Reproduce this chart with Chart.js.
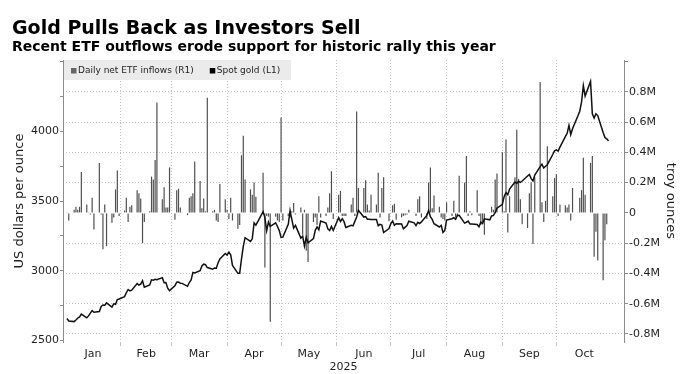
<!DOCTYPE html>
<html lang="en">
<head>
<meta charset="UTF-8">
<title>Gold Pulls Back as Investors Sell</title>
<script src="https://cdn.jsdelivr.net/npm/chart.js"></script>
<style>
  body { margin: 0; background: #fff; }
  .wrap { width: 695px; height: 374px; position: relative; }
</style>
</head>
<body>
<div class="wrap"><canvas id="goldChart"></canvas></div>
<script>
// trading days 2025 (M/D)
const dates = [
  '1/2','1/3','1/6','1/7','1/8','1/9','1/10','1/13','1/14','1/15','1/16','1/17','1/20','1/21','1/22','1/23','1/24','1/27','1/28','1/29','1/30','1/31',
  '2/3','2/4','2/5','2/6','2/7','2/10','2/11','2/12','2/13','2/14','2/17','2/18','2/19','2/20','2/21','2/24','2/25','2/26','2/27','2/28',
  '3/3','3/4','3/5','3/6','3/7','3/10','3/11','3/12','3/13','3/14','3/17','3/18','3/19','3/20','3/21','3/24','3/25','3/26','3/27','3/28','3/31',
  '4/1','4/2','4/3','4/4','4/7','4/8','4/9','4/10','4/11','4/14','4/15','4/16','4/17','4/21','4/22','4/23','4/24','4/25','4/28','4/29','4/30',
  '5/1','5/2','5/5','5/6','5/7','5/8','5/9','5/12','5/13','5/14','5/15','5/16','5/19','5/20','5/21','5/22','5/23','5/26','5/27','5/28','5/29','5/30',
  '6/2','6/3','6/4','6/5','6/6','6/9','6/10','6/11','6/12','6/13','6/16','6/17','6/18','6/19','6/20','6/23','6/24','6/25','6/26','6/27','6/30',
  '7/1','7/2','7/3','7/4','7/7','7/8','7/9','7/10','7/11','7/14','7/15','7/16','7/17','7/18','7/21','7/22','7/23','7/24','7/25','7/28','7/29','7/30','7/31',
  '8/1','8/4','8/5','8/6','8/7','8/8','8/11','8/12','8/13','8/14','8/15','8/18','8/19','8/20','8/21','8/22','8/25','8/26','8/27','8/28','8/29',
  '9/1','9/2','9/3','9/4','9/5','9/8','9/9','9/10','9/11','9/12','9/15','9/16','9/17','9/18','9/19','9/22','9/23','9/24','9/25','9/26','9/29','9/30',
  '10/1','10/2','10/3','10/6','10/7','10/8','10/9','10/10','10/13','10/14','10/15','10/16','10/17','10/20','10/21','10/22','10/23','10/24','10/27','10/28','10/29','10/30'
];

// Spot gold, USD per ounce (L1)
const spotGold = [
  2658,2640,2636,2648,2662,2670,2690,2663,2677,2697,2715,2703,2708,2745,2755,2754,2770,2740,2763,2760,2794,2798,
  2815,2843,2866,2856,2861,2908,2898,2904,2929,2883,2898,2935,2933,2939,2936,2951,2915,2916,2876,2858,
  2893,2918,2920,2911,2910,2889,2916,2934,2988,2984,3000,3035,3048,3044,3023,3011,3020,3019,3058,3085,3124,
  3113,3134,3114,3038,2982,2983,3083,3175,3237,3210,3229,3343,3327,3424,3381,3288,3349,3319,3344,3317,3288,
  3239,3241,3333,3431,3366,3306,3325,3234,3248,3177,3240,3201,3230,3290,3314,3294,3357,3342,3300,3288,3318,3289,
  3381,3353,3373,3352,3310,3326,3322,3354,3386,3433,3385,3388,3370,3370,3368,3368,3323,3333,3328,3274,3303,
  3338,3357,3326,3337,3335,3301,3313,3324,3355,3344,3324,3347,3339,3350,3397,3431,3387,3368,3337,3314,3326,3275,3289,
  3363,3373,3380,3369,3397,3398,3342,3348,3356,3335,3336,3332,3315,3348,3339,3372,3365,3393,3397,3416,3448,
  3476,3533,3560,3545,3586,3636,3626,3641,3634,3643,3679,3690,3660,3644,3685,3746,3763,3736,3749,3760,3833,3859,
  3866,3857,3886,3961,3985,4042,3976,4018,4110,4143,4208,4326,4252,4356,4125,4094,4125,4112,3990,3955,3945,3930
];

// Daily net ETF inflows, million troy ounces (R1)
const etfFlows = [
  0.005,-0.05,0.02,0.04,0.02,0.04,0.27,0.055,0.005,-0.01,0.10,-0.11,0.33,-0.01,-0.24,0.055,-0.22,-0.065,-0.03,0.155,0.28,-0.02,
  0.015,0.10,-0.06,0.04,0.05,0.15,0.13,0.095,-0.20,-0.06,0.01,0.24,0.22,0.35,0.73,0.09,0.17,0.035,0.035,0.30,
  -0.045,0.15,0.16,0.035,0.005,-0.015,0.10,0.11,0.13,0.34,0.21,0.03,0.095,0.01,0.76,0.01,0.02,-0.05,-0.06,0.19,0.09,
  0.02,-0.04,0.10,-0.05,-0.105,-0.08,0.38,0.51,0.22,0.155,0.12,0.20,0.107,0.265,-0.36,-0.02,-0.025,-0.72,-0.025,-0.05,-0.06,
  0.63,-0.05,-0.02,-0.03,0.01,0.065,-0.01,0.035,-0.145,0.02,-0.25,-0.325,-0.06,-0.03,-0.08,0.11,-0.03,-0.02,0.035,0.13,0.275,-0.04,
  0.12,0.145,-0.02,-0.02,-0.02,0.055,0.10,-0.02,0.67,0.165,0.165,0.215,0.055,0.015,0.12,0.055,0.265,-0.03,0.165,0.235,-0.055,
  0.005,0.05,0.06,-0.045,-0.03,-0.02,-0.015,-0.01,0.02,0.005,-0.02,0.09,0.11,-0.03,-0.04,0.20,0.30,0.03,0.115,0.04,-0.03,-0.04,-0.05,
  0.07,-0.02,0.08,-0.03,-0.02,0.245,0.20,0.375,-0.02,0.01,-0.015,0.15,-0.02,-0.08,-0.06,-0.145,0.005,0.04,0.02,0.22,0.26,
  0.40,0.01,0.485,-0.13,0.11,0.235,0.55,0.225,0.09,-0.075,-0.10,0.13,0.20,-0.205,0.235,0.865,0.07,-0.06,0.08,0.44,0.11,0.23,
  0.255,-0.02,0.055,0.05,0.035,0.055,-0.05,0.165,0.005,0.10,0.15,0.365,0.12,0.33,0.375,-0.29,-0.125,-0.315,-0.445,-0.18,-0.075,null
];

const monthNames = ['Jan','Feb','Mar','Apr','May','Jun','Jul','Aug','Sep','Oct'];
const leftTicks = [2500, 2750, 3000, 3250, 3500, 3750, 4000, 4250, 4500];
const leftLabels = [2500, 3000, 3500, 4000];
const rightTicks = [-0.8, -0.7, -0.6, -0.5, -0.4, -0.3, -0.2, -0.1, 0, 0.1, 0.2, 0.3, 0.4, 0.5, 0.6, 0.7, 0.8, 0.9, 1.0];
const rightLabels = [-0.8, -0.6, -0.4, -0.2, 0, 0.2, 0.4, 0.6, 0.8];
const rightGrid = [-0.8, -0.6, -0.4, -0.2, 0.2, 0.4, 0.6, 0.8];

// days since Jan 1 2025
function dayNum(md) {
    var p = md.split('/').map(Number);
    return (Date.UTC(2025, p[0] - 1, p[1]) - Date.UTC(2025, 0, 1)) / 864e5;
}
var xs = dates.map(dayNum);
var monthStarts = [];
for (var m = 1; m <= 11; m++) monthStarts.push(dayNum(m + '/1'));
var gridTicks = monthStarts.slice(1, 10);          // Feb 1 .. Oct 1
var labelTicks = monthNames.map((n, i) => (monthStarts[i] + monthStarts[i + 1]) / 2);

const tickFont = { family: 'DejaVu Sans', size: 11 };
const txt = '#1e1e1e';
const axisGrey = '#8c8c8c';
const gridGrey = '#c4c4c4';

const legendBand = {
    id: 'legendBand',
    afterDatasetsDraw(chart) {
        const { ctx, chartArea } = chart;
        const x0 = chartArea.left, y0 = chartArea.top;
        ctx.save();
        ctx.fillStyle = '#ebebeb';
        ctx.fillRect(x0 + 1, y0, 227, 20);
        ctx.font = '9px "DejaVu Sans"';
        ctx.textBaseline = 'middle';
        let cx = x0 + 8;
        chart.data.datasets.forEach(ds => {
            ctx.fillStyle = ds.legendColor;
            ctx.fillRect(cx, y0 + 8, 5.5, 5.5);
            ctx.fillStyle = txt;
            ctx.fillText(ds.label, cx + 7, y0 + 11);
            cx += 7 + ctx.measureText(ds.label).width + 16;
        });
        ctx.restore();
    }
};

const chart = new Chart(document.getElementById('goldChart'), {
    type: 'bar',
    data: {
        datasets: [
            {
                type: 'bar',
                label: 'Daily net ETF inflows (R1)',
                legendColor: '#666',
                data: etfFlows.map((v, i) => ({ x: xs[i], y: v })),
                yAxisID: 'yR',
                backgroundColor: '#505050',
                barThickness: 1.2,
                inflateAmount: 0,
                order: 2
            },
            {
                type: 'line',
                label: 'Spot gold (L1)',
                legendColor: '#000',
                data: spotGold.map((v, i) => ({ x: xs[i], y: v })),
                yAxisID: 'yL',
                borderColor: '#111',
                borderWidth: 1.5,
                pointRadius: 0,
                tension: 0,
                order: 1
            }
        ]
    },
    options: {
        responsive: true,
        maintainAspectRatio: false,
        animation: false,
        devicePixelRatio: 1,
        layout: { padding: { left: 12, right: 0, top: 0, bottom: 0 } },
        plugins: {
            legend: { display: false },
            tooltip: { enabled: false },
            title: {
                display: true,
                text: 'Gold Pulls Back as Investors Sell',
                align: 'start',
                color: '#000',
                font: { family: 'DejaVu Sans', size: 19, weight: 'bold', lineHeight: 1 },
                padding: { top: 19.5, bottom: 0 }
            },
            subtitle: {
                display: true,
                text: 'Recent ETF outflows erode support for historic rally this year',
                align: 'start',
                color: '#000',
                font: { family: 'DejaVu Sans', size: 14, weight: 'bold', lineHeight: 1 },
                padding: { top: 1.5, bottom: 6 }
            }
        },
        scales: {
            x: {
                type: 'linear',
                min: -1.2,
                max: 310.6,
                offset: false,
                afterBuildTicks: axis => {
                    axis.ticks = gridTicks.concat(labelTicks).sort((a, b) => a - b).map(v => ({ value: v }));
                },
                afterFit: axis => { axis.height = 32; },
                grid: {
                    offset: false,
                    tickLength: 4,
                    color: ctx => (ctx.tick && gridTicks.includes(ctx.tick.value)) ? gridGrey : 'transparent',
                    tickColor: ctx => (ctx.tick && gridTicks.includes(ctx.tick.value)) ? gridGrey : 'transparent'
                },
                border: { display: false, dash: [1, 2] },
                ticks: {
                    autoSkip: false,
                    maxRotation: 0,
                    padding: 1.5,
                    font: tickFont,
                    color: txt,
                    callback: v => {
                        var i = labelTicks.indexOf(v);
                        return i >= 0 ? monthNames[i] : '';
                    }
                },
                title: { display: true, text: '2025', color: txt, font: tickFont, padding: { top: 0, bottom: 0 } }
            },
            yL: {
                type: 'linear',
                position: 'left',
                min: 2490,
                max: 4510,
                afterBuildTicks: axis => { axis.ticks = leftTicks.map(v => ({ value: v })); },
                afterFit: axis => { axis.width = 51; },
                grid: { drawOnChartArea: false, tickLength: 3, tickColor: axisGrey },
                border: { color: axisGrey },
                ticks: {
                    padding: 1,
                    font: tickFont,
                    color: txt,
                    callback: v => leftLabels.includes(v) ? String(v) : ''
                },
                title: {
                    display: true,
                    text: 'US dollars per ounce',
                    color: txt,
                    font: { family: 'DejaVu Sans', size: 13 },
                    padding: { top: 0.2, bottom: 0 }
                }
            },
            yR: {
                type: 'linear',
                position: 'right',
                min: -0.853,
                max: 1.01,
                afterBuildTicks: axis => { axis.ticks = rightTicks.map(v => ({ value: v })); },
                afterFit: axis => { axis.width = 71; },
                grid: {
                    tickLength: 4,
                    tickColor: axisGrey,
                    color: ctx => (ctx.tick && rightGrid.includes(ctx.tick.value)) ? gridGrey : 'transparent'
                },
                border: { color: axisGrey, dash: [1, 2] },
                ticks: {
                    padding: 1,
                    font: tickFont,
                    color: txt,
                    callback: v => rightLabels.includes(v) ? (v === 0 ? '0' : v.toFixed(1) + 'M') : ''
                },
                title: {
                    display: true,
                    text: 'troy ounces',
                    color: txt,
                    font: { family: 'DejaVu Sans', size: 13 },
                    padding: { top: 17.2, bottom: 0 }
                }
            }
        }
    },
    plugins: [legendBand]
});
</script>
</body>
</html>
